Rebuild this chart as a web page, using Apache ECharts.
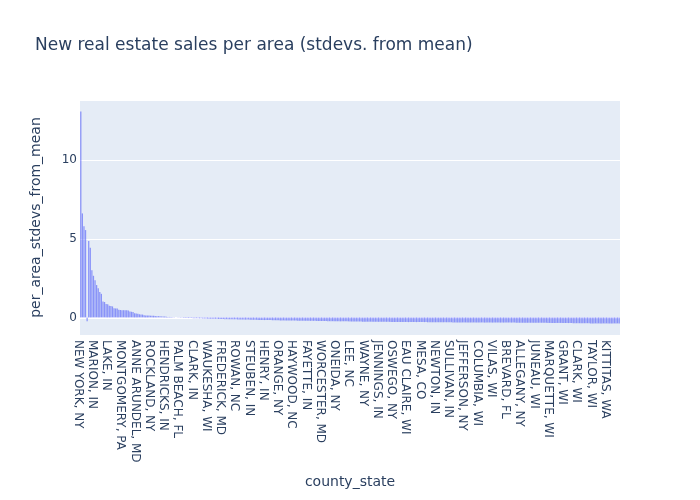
<!DOCTYPE html>
<html>
<head>
<meta charset="utf-8">
<script src="https://cdn.jsdelivr.net/npm/echarts@6/dist/echarts.min.js"></script>
<style>html,body{margin:0;padding:0;background:#fff}#c{width:700px;height:500px}</style>
</head>
<body>
<div id="c"></div>
<script>
// Tick labels visible on the x axis (every 9th county)
const tickLabels = ["NEW YORK, NY","MARION, IN","LAKE, IN","MONTGOMERY, PA","ANNE ARUNDEL, MD","ROCKLAND, NY","HENDRICKS, IN","PALM BEACH, FL","CLARK, IN","WAUKESHA, WI","FREDERICK, MD","ROWAN, NC","STEUBEN, IN","HENRY, IN","ORANGE, NY","HAYWOOD, NC","FAYETTE, IN","WORCESTER, MD","ONEIDA, NY","LEE, NC","WAYNE, NY","JENNINGS, IN","OSWEGO, NY","EAU CLAIRE, WI","MESA, CO","NEWTON, IN","SULLIVAN, IN","JEFFERSON, NY","COLUMBIA, WI","VILAS, WI","BREVARD, FL","ALLEGANY, NY","JUNEAU, WI","MARQUETTE, WI","GRANT, WI","CLARK, WI","TAYLOR, WI","KITTITAS, WA"];
const labelStep = 9;

// per_area_stdevs_from_mean, one value per county
const values = [
13.1,6.62,5.8,5.56,-0.24,4.86,4.44,3.0,2.65,2.37,
2.06,1.85,1.62,1.5,1.02,0.98,0.86,0.84,0.74,0.72,
0.7,0.58,0.57,0.56,0.48,0.47,0.46,0.46,0.45,0.45,
0.44,0.37,0.36,0.35,0.27,0.25,0.24,0.2,0.19,0.18,
0.13,0.12,0.12,0.12,0.11,0.1,0.1,0.09,0.08,0.08,
0.07,0.06,0.05,0.05,0.04,0.03,0.03,0.02,0.01,0.01,
-0.01,-0.01,-0.02,-0.02,-0.02,-0.03,-0.03,-0.03,-0.04,-0.04,
-0.04,-0.05,-0.05,-0.05,-0.06,-0.06,-0.06,-0.07,-0.07,-0.07,
-0.08,-0.08,-0.08,-0.09,-0.09,-0.09,-0.09,-0.1,-0.1,-0.1,
-0.1,-0.11,-0.11,-0.11,-0.11,-0.12,-0.12,-0.12,-0.12,-0.13,
-0.13,-0.13,-0.13,-0.14,-0.14,-0.14,-0.14,-0.15,-0.15,-0.15,
-0.15,-0.15,-0.16,-0.16,-0.16,-0.16,-0.17,-0.17,-0.17,-0.17,
-0.17,-0.18,-0.18,-0.18,-0.18,-0.18,-0.19,-0.19,-0.19,-0.19,
-0.19,-0.2,-0.2,-0.2,-0.2,-0.2,-0.2,-0.21,-0.21,-0.21,
-0.21,-0.21,-0.21,-0.22,-0.22,-0.22,-0.22,-0.22,-0.22,-0.23,
-0.23,-0.23,-0.23,-0.23,-0.23,-0.23,-0.24,-0.24,-0.24,-0.24,
-0.24,-0.24,-0.24,-0.25,-0.25,-0.25,-0.25,-0.25,-0.25,-0.25,
-0.26,-0.26,-0.26,-0.26,-0.26,-0.26,-0.26,-0.26,-0.27,-0.27,
-0.27,-0.27,-0.27,-0.27,-0.27,-0.27,-0.27,-0.28,-0.28,-0.28,
-0.28,-0.28,-0.28,-0.28,-0.28,-0.28,-0.29,-0.29,-0.29,-0.29,
-0.29,-0.29,-0.29,-0.29,-0.29,-0.29,-0.29,-0.3,-0.3,-0.3,
-0.3,-0.3,-0.3,-0.3,-0.3,-0.3,-0.3,-0.3,-0.3,-0.31,
-0.31,-0.31,-0.31,-0.31,-0.31,-0.31,-0.31,-0.31,-0.31,-0.31,
-0.31,-0.31,-0.31,-0.31,-0.31,-0.32,-0.32,-0.32,-0.32,-0.32,
-0.32,-0.32,-0.32,-0.32,-0.32,-0.32,-0.32,-0.32,-0.32,-0.32,
-0.32,-0.32,-0.32,-0.32,-0.33,-0.33,-0.33,-0.33,-0.33,-0.33,
-0.33,-0.33,-0.33,-0.33,-0.33,-0.33,-0.33,-0.33,-0.33,-0.33,
-0.33,-0.33,-0.33,-0.33,-0.33,-0.34,-0.34,-0.34,-0.34,-0.34,
-0.34,-0.34,-0.34,-0.34,-0.34,-0.34,-0.34,-0.34,-0.34,-0.34,
-0.34,-0.34,-0.34,-0.34,-0.34,-0.35,-0.35,-0.35,-0.35,-0.35,
-0.35,-0.35,-0.35,-0.35,-0.35,-0.35,-0.36,-0.36,-0.36,-0.36,
-0.36,-0.37,-0.37,-0.37,-0.37,-0.37,-0.37,-0.37,-0.37,-0.37,
-0.37,-0.37,-0.38,-0.38,-0.38,-0.38,-0.38,-0.38,-0.38,-0.38,
-0.38,-0.38,-0.38,-0.38,-0.38,-0.38,-0.38,-0.38,-0.38,-0.38,
-0.38
];

const yTicks = [0, 5, 10];

const categories = values.map((v, i) => (i % labelStep === 0 ? (tickLabels[i / labelStep] || '') : ''));

const txt = '#2a3f5f';
const font = '"DejaVu Sans", Verdana, sans-serif';
const chart = echarts.init(document.getElementById('c'), null, {renderer: 'canvas'});
chart.setOption({
  animation: false,
  backgroundColor: '#fff',
  textStyle: {fontFamily: font, color: txt},
  title: {
    text: 'New real estate sales per area (stdevs. from mean)',
    left: 35, top: 37, padding: 0,
    textStyle: {fontFamily: font, fontSize: 17, fontWeight: 'normal', color: txt}
  },
  grid: {left: 80, right: 80, top: 100, bottom: 165, show: true, backgroundColor: '#E5ECF6', borderWidth: 0},
  xAxis: [{
    type: 'category',
    data: categories,
    name: 'county_state',
    nameLocation: 'middle',
    nameGap: 140,
    nameTextStyle: {fontFamily: font, fontSize: 14, color: txt},
    axisLine: {show: false, onZero: false},
    axisTick: {show: false},
    splitLine: {show: false},
    axisLabel: {interval: labelStep - 1, rotate: -90, margin: 5, fontSize: 12, color: txt, fontFamily: font, verticalAlign: 'top', lineHeight: 6}
  }, {
    type: 'category',
    data: categories,
    position: 'bottom',
    axisLine: {show: true, onZero: true, lineStyle: {color: '#ffffff', width: 2}},
    axisTick: {show: false},
    axisLabel: {show: false},
    splitLine: {show: false}
  }],
  yAxis: {
    type: 'value',
    min: -1.12, max: 13.84,
    splitNumber: 3,
    name: 'per_area_stdevs_from_mean',
    nameLocation: 'middle',
    nameGap: 37,
    nameTextStyle: {fontFamily: font, fontSize: 14, color: txt},
    axisLine: {show: false},
    axisTick: {show: false},
    splitLine: {show: true, lineStyle: {color: '#ffffff', width: 1}},
    axisLabel: {
      margin: 3, fontSize: 12, color: txt, fontFamily: font,
      showMinLabel: false, showMaxLabel: false,
      formatter: v => (yTicks.indexOf(Math.round(v * 1000) / 1000) >= 0 ? String(v) : '')
    }
  },
  series: [{
    type: 'bar',
    data: values,
    xAxisIndex: 0,
    barCategoryGap: '20%',
    itemStyle: {color: '#636efa', opacity: 0.7, borderWidth: 0}
  }]
});
</script>
</body>
</html>
